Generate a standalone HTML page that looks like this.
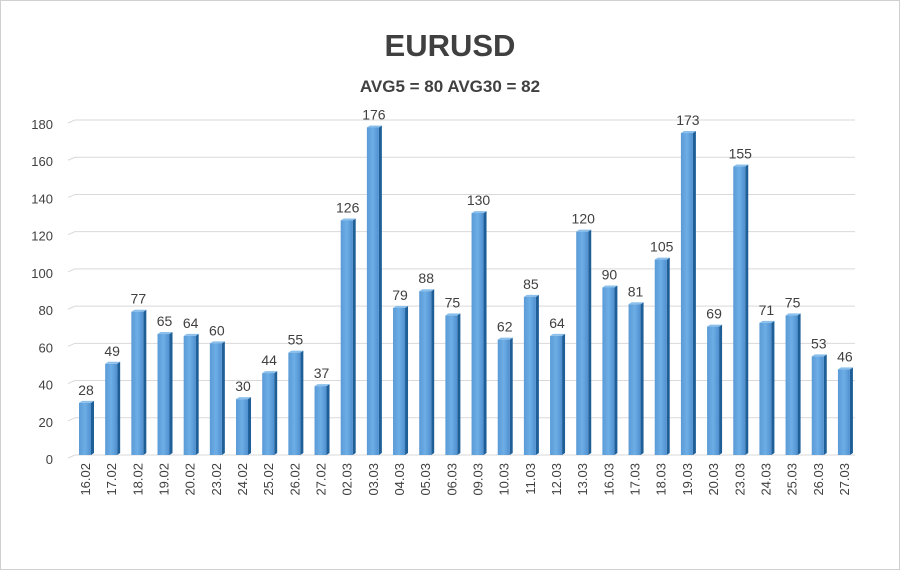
<!DOCTYPE html>
<html><head><style>
body{margin:0;background:#fff}
svg{display:block}
</style></head><body>
<svg width="900" height="570" xmlns="http://www.w3.org/2000/svg" font-family="Liberation Sans, sans-serif">
<defs>
<linearGradient id="g" x1="0" x2="1" y1="0" y2="0">
<stop offset="0" stop-color="#5a9ad6"/><stop offset="0.5" stop-color="#6eaee6"/><stop offset="1" stop-color="#4f8fcf"/>
</linearGradient>
</defs>
<rect x="0.5" y="0.5" width="899" height="569" fill="#fff" stroke="#d0d0d0"/>
<text x="450" y="56" text-anchor="middle" font-size="31" font-weight="bold" fill="#404040">EURUSD</text>
<text x="450" y="92" text-anchor="middle" font-size="17" font-weight="bold" fill="#404040">AVG5 = 80 AVG30 = 82</text>
<g id="grid" stroke="#d9d9d9" stroke-width="1" fill="none"></g>
<g id="yl" font-size="13" fill="#404040" text-anchor="end"></g>
<g id="bars"></g>
<g id="vl" font-size="14" fill="#404040" text-anchor="middle"></g>
<g id="xl" font-size="13" fill="#404040"></g>
</svg>
<script>
const d=[["16.02",28],["17.02",49],["18.02",77],["19.02",65],["20.02",64],["23.02",60],["24.02",30],["25.02",44],["26.02",55],["27.02",37],["02.03",126],["03.03",176],["04.03",79],["05.03",88],["06.03",75],["09.03",130],["10.03",62],["11.03",85],["12.03",64],["13.03",120],["16.03",90],["17.03",81],["18.03",105],["19.03",173],["20.03",69],["23.03",155],["24.03",71],["25.03",75],["26.03",53],["27.03",46]];
const ns="http://www.w3.org/2000/svg";
function el(p,t,a,txt){const e=document.createElementNS(ns,t);for(const k in a)e.setAttribute(k,a[k]);if(txt!=null)e.textContent=txt;document.getElementById(p).appendChild(e);return e;}
const y0=455,s=1.861;
for(let v=0;v<=180;v+=20){const y=y0-v*s;
el("grid","path",{d:`M68 ${y+3} L75 ${y} L855 ${y}`});
el("yl","text",{x:53,y:y+9},v);}
d.forEach((r,i)=>{const x=79+i*26.17,h=r[1]*s,t=y0-h;
el("bars","path",{d:`M${x+12} ${t} L${x+15} ${t-2} L${x+15} ${y0-2} L${x+12} ${y0}Z`,fill:"#1f5f98"});
el("bars","path",{d:`M${x} ${t} L${x+3} ${t-2} L${x+15} ${t-2} L${x+12} ${t}Z`,fill:"#8cc0ec"});
el("bars","rect",{x:x,y:t,width:12,height:h,fill:"url(#g)"});
el("vl","text",{x:x+7,y:t-8},r[1]);
const cx=x+11;el("xl","text",{transform:`translate(${cx},463) rotate(-90)`,"text-anchor":"end"},r[0]);
});
</script>
</body></html>
